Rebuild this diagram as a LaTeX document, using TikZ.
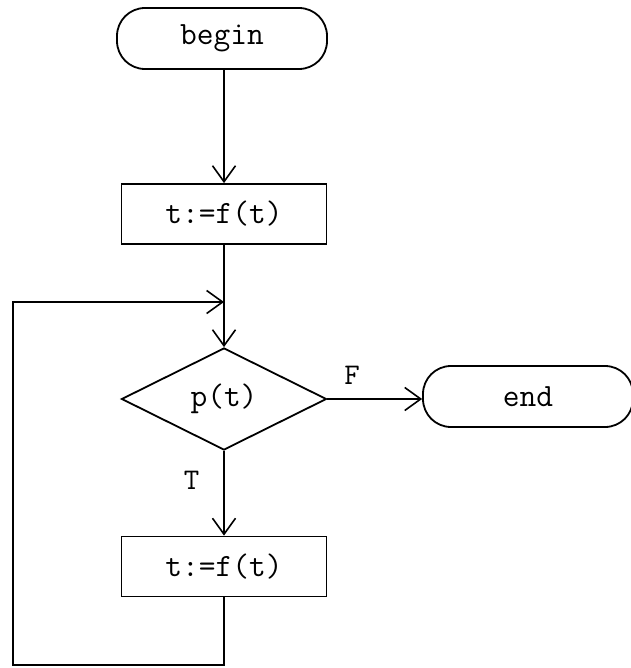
\documentclass[tikz,border=0pt]{standalone}
\usepackage{fontspec}
\usetikzlibrary{arrows.meta,shapes.geometric}
\tikzset{
  base/.style={draw, line width=1.8pt, inner sep=0pt, font=\fontsize{32.5}{39}\selectfont\ttfamily},
  term/.style={base, rectangle, rounded corners=28pt, minimum width=210pt, minimum height=61pt},
  proc/.style={base, rectangle, minimum width=205pt, minimum height=60pt},
  dec/.style={base, diamond, aspect=2, minimum width=205pt, minimum height=102pt},
  arr/.style={line width=1.6pt, -{Straight Barb[length=16pt,width=23pt,line width=1.6pt]}},
  lbl/.style={inner sep=0pt, font=\fontsize{30}{36}\selectfont\ttfamily}
}
\begin{document}
\begin{tikzpicture}[x=1pt,y=-1pt]
\useasboundingbox (0,0) rectangle (630,668);
\node[term] (begin) at (222,38.5) {begin};
\node[proc] (p1) at (224,214) {t:=f(t)};
\node[dec] (d) at (224,399) {p(t)};
\node[term] (end) at (528,396.5) {end};
\node[proc] (p2) at (224,566.5) {t:=f(t)};
\coordinate (lb) at (13,665);
\coordinate (j) at (224,302);
\draw[arr] (begin.south -| p1.north) -- (p1.north);
\draw[arr] (p1.south) -- (d.north);
\draw[arr] (d.east) -- node[lbl, pos=0.26, above=14pt]{F} (d.east -| end.west);
\draw[arr] (d.south) -- node[lbl, pos=0.35, left=24pt]{T} (p2.north);
\draw[arr] (p2.south) |- (lb) |- (j);
\end{tikzpicture}
\end{document}
